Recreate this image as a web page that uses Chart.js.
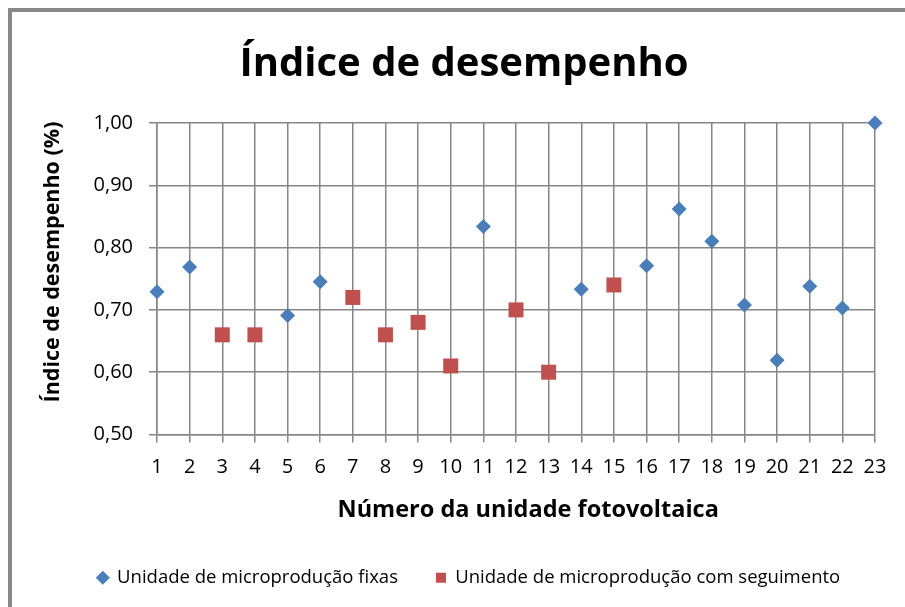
<!DOCTYPE html>
<html>
<head>
<meta charset="utf-8">
<script src="https://cdn.jsdelivr.net/npm/chart.js@4"></script>
<style>
  html, body { margin: 0; padding: 0; background: #fff; }
  #wrap { position: relative; width: 905px; height: 607px; }
  #frame {
    position: absolute; left: 8px; top: 8px; width: 910px; height: 620px;
    border-left: 4px solid #888; border-top: 4px solid #888;
    pointer-events: none;
  }
</style>
</head>
<body>
<div id="wrap">
  <canvas id="chart" width="905" height="607"></canvas>
  <div id="frame"></div>
</div>
<script>
// Unit numbers (x axis) and performance index per unit
const unitsFixed = [1, 2, 5, 6, 11, 14, 16, 17, 18, 19, 20, 21, 22, 23];
const valuesFixed = [0.729, 0.769, 0.691, 0.745, 0.834, 0.733, 0.771, 0.862, 0.810, 0.708, 0.619, 0.738, 0.703, 1.00];

const unitsTracking = [3, 4, 7, 8, 9, 10, 12, 13, 15];
const valuesTracking = [0.66, 0.66, 0.72, 0.66, 0.68, 0.61, 0.70, 0.60, 0.74];

const xTicks = [1, 2, 3, 4, 5, 6, 7, 8, 9, 10, 11, 12, 13, 14, 15, 16, 17, 18, 19, 20, 21, 22, 23];
const yTicks = [0.5, 0.6, 0.7, 0.8, 0.9, 1.0];

const FONT = '"Open Sans", sans-serif';
const GRID = '#868686';

// Title and legend are centred on the whole Excel frame, not the canvas
const boxShift = {
    id: 'boxShift',
    afterLayout(chart) {
        if (chart.titleBlock) {
            chart.titleBlock.left = 24;
            chart.titleBlock.right = 904;
        }
        if (chart.legend) {
            chart.legend.left = 26;
            chart.legend.right = 912;
        }
    }
};

new Chart(document.getElementById('chart'), {
    type: 'scatter',
    data: {
        datasets: [{
            label: 'Unidade de microprodução fixas',
            data: unitsFixed.map((u, i) => ({ x: u, y: valuesFixed[i] })),
            pointStyle: 'rectRot',
            pointRadius: 7.5,
            backgroundColor: '#4a7ebb',
            borderColor: '#4a7ebb',
            borderWidth: 0,
            clip: false
        }, {
            label: 'Unidade de microprodução com seguimento',
            data: unitsTracking.map((u, i) => ({ x: u, y: valuesTracking[i] })),
            pointStyle: 'rect',
            pointRadius: 10.6,
            backgroundColor: '#c0504d',
            borderColor: '#c0504d',
            borderWidth: 0,
            clip: false
        }]
    },
    options: {
        responsive: false,
        animation: false,
        layout: { padding: { left: 0, right: 30, top: 0, bottom: 10 } },
        plugins: {
            title: {
                display: true,
                text: 'Índice de desempenho',
                color: '#000',
                font: { family: FONT, size: 40, weight: 'bold' },
                padding: { top: 41, bottom: 34 }
            },
            legend: {
                position: 'bottom',
                align: 'center',
                labels: {
                    usePointStyle: true,
                    color: '#000',
                    font: { family: FONT, size: 18.5 },
                    boxWidth: 10,
                    boxHeight: 10,
                    padding: 38
                }
            },
            tooltip: { enabled: false }
        },
        scales: {
            x: {
                type: 'linear',
                min: 1,
                max: 23,
                afterFit(scale) { scale.height = 96; },
                afterBuildTicks(scale) {
                    scale.ticks = xTicks.map(v => ({ value: v }));
                },
                ticks: {
                    color: '#000',
                    font: { family: FONT, size: 20 },
                    padding: 13,
                    maxRotation: 0,
                    autoSkip: false,
                    callback: v => String(v)
                },
                grid: { color: GRID, lineWidth: 1.5, tickLength: 8 },
                border: { color: GRID, width: 1.5 },
                title: {
                    display: true,
                    // leading spaces push the title right, as in the original
                    text: '    Número da unidade fotovoltaica',
                    color: '#000',
                    font: { family: FONT, size: 23.5, weight: 'bold' },
                    padding: { top: 8, bottom: 6 }
                }
            },
            y: {
                min: 0.5,
                max: 1.0,
                afterFit(scale) { scale.width = 157; },
                afterBuildTicks(scale) {
                    scale.ticks = yTicks.map(v => ({ value: v }));
                },
                ticks: {
                    color: '#000',
                    font: { family: FONT, size: 20 },
                    padding: 16,
                    callback: v => v.toFixed(2).replace('.', ',')
                },
                grid: { color: GRID, lineWidth: 1.5, tickLength: 8 },
                border: { color: GRID, width: 1.5 },
                title: {
                    display: true,
                    // leading spaces lift the rotated title a little
                    text: '      Índice de desempenho (%)',
                    color: '#000',
                    font: { family: FONT, size: 21.5, weight: 'bold' },
                    padding: { top: 40, bottom: 0 }
                }
            }
        }
    },
    plugins: [boxShift]
});
</script>
</body>
</html>
